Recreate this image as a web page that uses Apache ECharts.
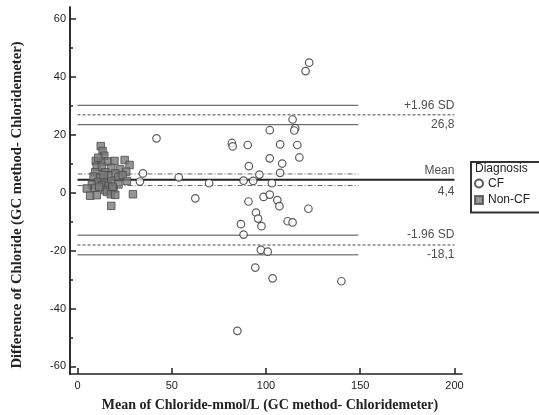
<!DOCTYPE html>
<html>
<head>
<meta charset="utf-8">
<script src="https://cdn.jsdelivr.net/npm/echarts@6/dist/echarts.min.js"></script>
<style>
  html, body { margin: 0; padding: 0; background: #fff; }
  #chart { width: 539px; height: 415px; }
</style>
</head>
<body>
<div id="chart"></div>
<script>
// CF patients, [mean, difference]
var cfPoints = [
  [122.9, 44.8], [121.0, 41.9], [114.1, 25.2], [102.0, 21.5], [115.5, 22.2], [115.0, 21.4],
  [41.9, 18.7], [81.9, 17.1], [82.3, 15.9], [90.3, 16.4], [107.5, 16.6], [116.6, 16.4],
  [102.0, 11.8], [117.7, 12.1], [90.9, 9.1], [108.6, 10.0], [96.5, 6.2], [107.5, 6.8],
  [34.7, 6.6], [33.1, 3.8], [53.7, 5.2], [69.8, 3.2], [88.1, 4.1], [93.2, 4.0], [103.1, 3.2],
  [62.5, -2.0], [98.7, -1.5], [102.0, -0.7], [90.7, -3.1], [106.0, -2.6], [107.1, -4.7],
  [122.5, -5.6], [94.7, -6.9], [95.8, -9.0], [86.7, -10.9], [97.6, -11.6], [111.5, -9.9],
  [114.1, -10.3], [88.1, -14.5], [97.3, -19.8], [100.9, -20.4], [94.3, -25.9],
  [103.5, -29.6], [140.0, -30.6], [84.8, -47.7]
];
// Non-CF patients
var nonCfPoints = [
  [12.3, 16.0], [13.3, 14.3], [14.2, 12.7], [9.7, 10.9], [12.6, 10.7], [16.1, 10.7],
  [19.6, 10.9], [25.0, 11.2], [27.6, 9.5], [10.2, 8.9], [12.9, 8.9], [17.9, 8.5],
  [22.6, 8.0], [25.8, 7.2], [9.4, 7.0], [14.7, 7.0], [20.0, 6.6], [8.5, 5.5], [12.0, 5.1],
  [16.4, 5.8], [21.7, 5.4], [23.9, 6.0], [10.8, 3.7], [14.3, 3.7], [17.9, 4.0], [26.2, 4.0],
  [7.6, 2.6], [12.9, 2.6], [16.4, 2.3], [21.7, 2.8], [4.9, 1.4], [9.4, 1.6], [14.7, 0.8],
  [19.1, 1.2], [6.7, -1.1], [10.2, -0.9], [15.6, 0.2], [17.7, -0.6], [20.0, -0.8],
  [29.4, -0.6], [17.9, -4.6], [11.0, 12.0], [13.8, 6.0], [11.5, 2.0], [18.5, 2.0]
];

// Bland-Altman lines
var meanDiff = 4.4;
var meanCI = [2.4, 6.4];
var upperLimit = 26.8;
var upperCI = [23.4, 30.1];
var lowerLimit = -18.1;
var lowerCI = [-21.5, -14.7];
var ciEnd = 149;
var limitEnd = 200;

// texts at the right end of the lines
var annotations = [
  [200, 30.0, '+1.96 SD'], [200, 23.5, '26,8'],
  [200, 7.6, 'Mean'], [200, 0.3, '4,4'],
  [200, -14.7, '-1.96 SD'], [200, -21.4, '-18,1']
];

var xTicks = [0, 50, 100, 150, 200];
var yTicks = [-60, -40, -20, 0, 20, 40, 60];
var yMinorTicks = [-50, -30, -10, 10, 30, 50];
var xRange = [-4, 204];
var yRange = [-62.6, 64];

function hLine(y, x1, style) {
  return {
    type: 'line', data: [[0, y], [x1, y]], symbol: 'none', silent: true,
    lineStyle: style, z: 1
  };
}

var thin = { color: '#4a4a4a', width: 1, type: 'solid' };
var dashed = { color: '#4a4a4a', width: 1, type: [3, 2] };
var dashDot = { color: '#666', width: 1, type: [5, 2, 1, 2] };
var axisColor = '#222';
var labelFont = { color: '#222', fontSize: 11, fontFamily: 'Liberation Sans' };

function axis(range, ticks, tickLen, showLabel, margin, pos) {
  return {
    type: 'value', min: range[0], max: range[1], position: pos,
    axisLine: { show: true, onZero: false, lineStyle: { color: axisColor, width: 1.5 } },
    axisTick: { show: true, inside: true, length: tickLen, customValues: ticks, lineStyle: { color: axisColor, width: 1.5 } },
    axisLabel: Object.assign({ show: showLabel, customValues: ticks, margin: margin }, labelFont),
    splitLine: { show: false }
  };
}

var myChart = echarts.init(document.getElementById('chart'));

var option = {
  animation: false,
  grid: { left: 70, right: 77, top: 7, bottom: 41 },
  xAxis: [axis(xRange, xTicks, 6, true, 6, 'bottom')],
  yAxis: [
    axis(yRange, yTicks, 6, true, 4, 'left'),
    axis(yRange, yMinorTicks, 3, false, 4, 'left')
  ],
  legend: {
    data: ['CF', 'Non-CF'],
    orient: 'vertical', left: 471, top: 162,
    padding: [15.5, 30, 6.5, 3],
    itemWidth: 8, itemHeight: 8, itemGap: 4.5,
    borderColor: '#333', borderWidth: 2,
    textStyle: { fontSize: 12, color: '#222', fontFamily: 'Liberation Sans' }
  },
  graphic: [
    { type: 'text', left: 475, top: 163, style: { text: 'Diagnosis', fontSize: 12, fill: '#222', fontFamily: 'Liberation Sans' } },
    { type: 'text', x: 270, y: 405, style: { text: 'Mean of Chloride-mmol/L (GC method- Chloridemeter)', fontSize: 14, fontWeight: 'bold', fontFamily: 'Liberation Serif', fill: '#222', textAlign: 'center', textVerticalAlign: 'middle' } },
    { type: 'text', x: 17, y: 205, rotation: Math.PI / 2, style: { text: 'Difference of Chloride (GC method- Chloridemeter)', fontSize: 14.7, fontWeight: 'bold', fontFamily: 'Liberation Serif', fill: '#222', textAlign: 'center', textVerticalAlign: 'middle' } }
  ],
  series: [
    hLine(upperCI[1], ciEnd, thin),
    hLine(upperLimit, limitEnd, dashed),
    hLine(upperCI[0], ciEnd, thin),
    hLine(meanCI[1], ciEnd, dashDot),
    hLine(meanDiff, limitEnd, { color: '#222', width: 2 }),
    hLine(meanCI[0], ciEnd, dashDot),
    hLine(lowerCI[1], ciEnd, thin),
    hLine(lowerLimit, limitEnd, dashed),
    hLine(lowerCI[0], ciEnd, thin),
    {
      name: 'Non-CF', type: 'scatter', data: nonCfPoints, symbol: 'rect', symbolSize: 7.5, z: 3,
      itemStyle: { color: '#7b7b7b', borderColor: '#4a4a4a', borderWidth: 1 }
    },
    {
      name: 'CF', type: 'scatter', data: cfPoints, symbol: 'circle', symbolSize: 7.5, z: 4,
      itemStyle: { color: '#fff', borderColor: '#333', borderWidth: 1.2 }
    },
    {
      type: 'scatter', data: annotations, symbolSize: 0, silent: true, z: 5,
      label: {
        show: true, position: 'left', distance: 0, color: '#222', fontSize: 12,
        fontFamily: 'Liberation Sans',
        formatter: function (p) { return p.value[2]; }
      }
    }
  ]
};

myChart.setOption(option);
</script>
</body>
</html>
